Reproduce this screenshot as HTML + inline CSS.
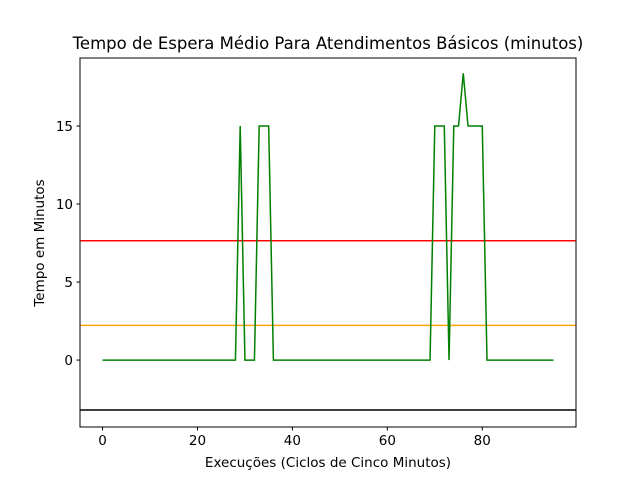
<!DOCTYPE html>
<html><head><meta charset="utf-8"><style>
body{margin:0;background:#fff}
svg{display:block;font-family:"DejaVu Sans","Liberation Sans",sans-serif}
</style></head><body>
<svg id="chart" width="640" height="480" xmlns="http://www.w3.org/2000/svg">
<rect width="640" height="480" fill="#fff"/>
<text x="328" y="49" text-anchor="middle" font-size="16.5">Tempo de Espera Médio Para Atendimentos Básicos (minutos)</text>
<g id="plot"></g>
<rect x="80" y="58" width="496" height="369" fill="none" stroke="#000" stroke-width="1"/>
<text x="328" y="467" text-anchor="middle" font-size="13.5">Execuções (Ciclos de Cinco Minutos)</text>
<text transform="translate(44,243) rotate(-90)" text-anchor="middle" font-size="13.5">Tempo em Minutos</text>
</svg>
<script>
const xTicks=[0,20,40,60,80];
const yTicks=[0,5,10,15];
const waitTimes=[0,0,0,0,0,0,0,0,0,0,0,0,0,0,0,0,0,0,0,0,0,0,0,0,0,0,0,0,0,15,0,0,0,15,15,15,0,0,0,0,0,0,0,0,0,0,0,0,0,0,0,0,0,0,0,0,0,0,0,0,0,0,0,0,0,0,0,0,0,0,15,15,15,0,15,15,18.38,15,15,15,15,0,0,0,0,0,0,0,0,0,0,0,0,0,0,0];
const refLines=[7.65,2.22,-3.2];
const refColors=['#ff0000','#ffa500','#000000'];
const refNames=['upper-limit-line','mean-line','lower-limit-line'];
const NS='http://www.w3.org/2000/svg';
const g=document.getElementById('plot');
const X0=80,X1=576,Y0=58,Y1=427;
const xmin=-4.75,xmax=99.75,ymin=-4.29,ymax=19.36;
const sx=v=>X0+(v-xmin)/(xmax-xmin)*(X1-X0);
const sy=v=>Y1-(v-ymin)/(ymax-ymin)*(Y1-Y0);
function mk(t,a){const e=document.createElementNS(NS,t);for(const k in a)e.setAttribute(k,a[k]);g.appendChild(e);return e;}
xTicks.forEach(v=>{
 const l=mk('line',{x1:sx(v),x2:sx(v),y1:Y1,y2:Y1+3.5,stroke:'#000'});
 
 
 const t=mk('text',{x:sx(v),y:Y1+18,'text-anchor':'middle','font-size':'13.5'});t.textContent=v;
 
 
});
yTicks.forEach(v=>{
 const l=mk('line',{x1:X0-3.5,x2:X0,y1:sy(v),y2:sy(v),stroke:'#000'});
 
 
 const t=mk('text',{x:X0-7,y:sy(v)+5,'text-anchor':'end','font-size':'13.5'});t.textContent=v;
 
 
});
refLines.forEach((v,i)=>{
 const l=mk('line',{x1:X0,x2:X1,y1:sy(v),y2:sy(v),stroke:refColors[i],'stroke-width':1.5});
 
 
});
const p=mk('polyline',{points:waitTimes.map((v,i)=>sx(i)+','+sy(v)).join(' '),fill:'none',stroke:'#008000','stroke-width':1.5});


</script>
</body></html>
